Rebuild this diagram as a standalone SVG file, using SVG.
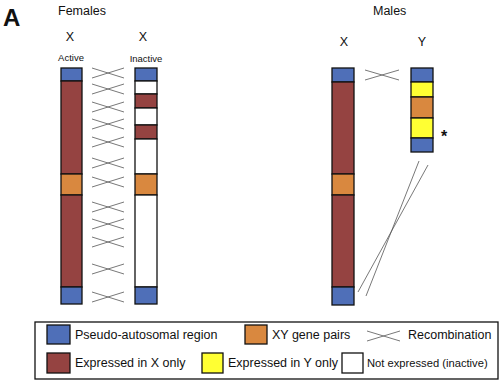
<svg xmlns="http://www.w3.org/2000/svg" width="500" height="389" viewBox="0 0 500 389">
<style>
text{font-family:"Liberation Sans",Arial,sans-serif;fill:#111}
.seg{stroke:#111;stroke-width:1.3}
.b{fill:#4f6fb8}.r{fill:#954341}.o{fill:#d9883f}.w{fill:#fff}.y{fill:#ffff33}
.x{stroke:#555;stroke-width:0.8;fill:none}
.lbl{font-size:12.5px}
.leg{font-size:12.5px}
</style>
<defs>
<g id="cross"><path class="x" d="M0,-5 L32,5 M0,5 L32,-5"/></g>
</defs>
<rect width="500" height="389" fill="#fff"/>
<text x="3" y="26" font-size="24" font-weight="bold">A</text>
<text x="58" y="15" class="lbl">Females</text>
<text x="70" y="41" class="lbl" text-anchor="middle">X</text>
<text x="143" y="41" class="lbl" text-anchor="middle">X</text>
<text x="71" y="61" font-size="9.5" text-anchor="middle">Active</text>
<text x="146" y="62" font-size="9.5" text-anchor="middle">Inactive</text>
<text x="373" y="15" class="lbl">Males</text>
<text x="344" y="46" class="lbl" text-anchor="middle">X</text>
<text x="422" y="46" class="lbl" text-anchor="middle">Y</text>

<g id="female-active-x">
<rect class="seg b" x="61" y="68" width="21" height="13"/>
<rect class="seg r" x="61" y="81" width="21" height="93"/>
<rect class="seg o" x="61" y="174" width="21" height="21"/>
<rect class="seg r" x="61" y="195" width="21" height="92"/>
<rect class="seg b" x="61" y="287" width="21" height="17"/>
</g>
<g id="female-inactive-x">
<rect class="seg b" x="135" y="68" width="22" height="13"/>
<rect class="seg w" x="135" y="81" width="22" height="13"/>
<rect class="seg r" x="135" y="94" width="22" height="14"/>
<rect class="seg w" x="135" y="108" width="22" height="17"/>
<rect class="seg r" x="135" y="125" width="22" height="14"/>
<rect class="seg w" x="135" y="139" width="22" height="35"/>
<rect class="seg o" x="135" y="174" width="22" height="21"/>
<rect class="seg w" x="135" y="195" width="22" height="92"/>
<rect class="seg b" x="135" y="287" width="22" height="17"/>
</g>
<g id="male-x">
<rect class="seg b" x="332" y="68" width="22" height="14"/>
<rect class="seg r" x="332" y="82" width="22" height="92"/>
<rect class="seg o" x="332" y="174" width="22" height="21"/>
<rect class="seg r" x="332" y="195" width="22" height="92"/>
<rect class="seg b" x="332" y="287" width="22" height="18"/>
</g>
<g id="male-y">
<rect class="seg b" x="411" y="68" width="22" height="14"/>
<rect class="seg y" x="411" y="82" width="22" height="15"/>
<rect class="seg o" x="411" y="97" width="22" height="21"/>
<rect class="seg y" x="411" y="118" width="22" height="20"/>
<rect class="seg b" x="411" y="138" width="22" height="14"/>
</g>
<text x="441" y="142" font-size="16" font-weight="bold">*</text>

<g id="connectors">
<use href="#cross" x="92" y="73"/>
<use href="#cross" x="92" y="89"/>
<use href="#cross" x="92" y="107"/>
<use href="#cross" x="92" y="124"/>
<use href="#cross" x="92" y="142"/>
<use href="#cross" x="92" y="163"/>
<use href="#cross" x="92" y="182"/>
<use href="#cross" x="92" y="207"/>
<use href="#cross" x="92" y="224"/>
<use href="#cross" x="92" y="242"/>
<use href="#cross" x="92" y="269"/>
<use href="#cross" x="92" y="297"/>
<path class="x" d="M365,70 L399,80 M365,80 L399,70"/>
<path class="x" d="M419,161 L366,296 M428,165 L358,292"/>
</g>

<g id="legend">
<rect x="35" y="322" width="463" height="57" fill="#fff" stroke="#111" stroke-width="1.3"/>
<rect class="seg b" x="47" y="325" width="23" height="19"/>
<text x="75" y="339" class="leg">Pseudo-autosomal region</text>
<rect class="seg o" x="245" y="325" width="22" height="19"/>
<text x="272" y="339" class="leg">XY gene pairs</text>
<path class="x" d="M367,331 L400,341 M367,341 L400,331"/>
<text x="408" y="339" class="leg">Recombination</text>
<rect class="seg r" x="47" y="353" width="23" height="20"/>
<text x="75" y="367" class="leg">Expressed in X only</text>
<rect class="seg y" x="202" y="353" width="21" height="20"/>
<text x="228" y="367" class="leg">Expressed in Y only</text>
<rect class="seg w" x="342" y="353" width="21" height="20"/>
<text x="367" y="367" font-size="11.2px">Not expressed (inactive)</text>
</g>
</svg>
